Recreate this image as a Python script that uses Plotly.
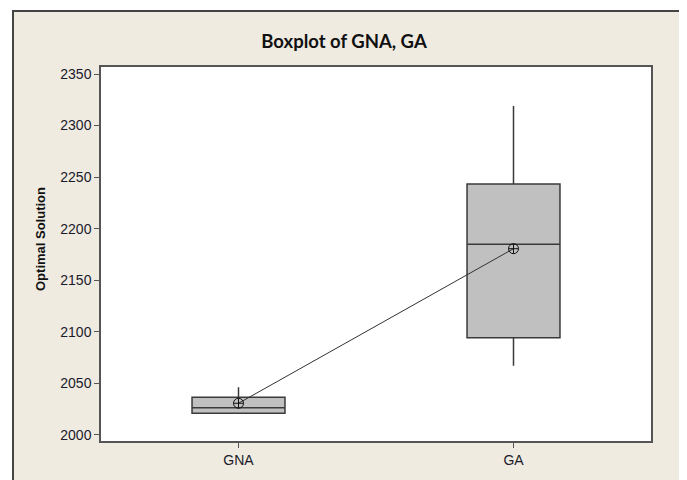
import plotly.graph_objects as go

# ---- data ----
categories = ["GNA", "GA"]
q1_vals = [2020.8, 2094.1]
median_vals = [2026.2, 2184.8]
q3_vals = [2036.3, 2243.3]
lower_whisker = [2020.8, 2067.0]
upper_whisker = [2046.0, 2319.0]
mean_vals = [2030.5, 2180.5]
y_ticks = [2000, 2050, 2100, 2150, 2200, 2250, 2300, 2350]

title_text = "Boxplot of GNA, GA"
y_title = "Optimal Solution"

BEIGE = "#EFEBE1"
DARK = "#3a3a3a"

fig = go.Figure()

fig.add_trace(go.Box(
    x=categories,
    q1=q1_vals,
    median=median_vals,
    q3=q3_vals,
    lowerfence=lower_whisker,
    upperfence=upper_whisker,
    fillcolor="#C0C0C0",
    line=dict(color=DARK, width=1.5),
    whiskerwidth=0,
    width=0.338,
    boxpoints=False,
    showlegend=False,
    hoverinfo="skip",
))

fig.add_trace(go.Scatter(
    x=categories,
    y=mean_vals,
    mode="lines+markers",
    line=dict(color="#333333", width=1),
    marker=dict(symbol="circle-cross-open", size=10, color="#111111",
                line=dict(width=1, color="#111111")),
    showlegend=False,
    hoverinfo="skip",
))

# page body adds an 8px offset, so the figure is drawn 8px smaller
OFF = 8
W, H = 687 - OFF, 480 - OFF
L, R, T, B = 101 - OFF, 36, 67 - OFF, 39
pw, ph = W - L - R, H - T - B

def px_x(x):
    return (x - OFF - L) / pw

def px_y(y):
    return (H - B - (y - OFF)) / ph

fig.update_layout(
    width=W, height=H,
    margin=dict(l=L, r=R, t=T, b=B, autoexpand=False),
    paper_bgcolor="white",
    plot_bgcolor="white",
    title=dict(text="<b>" + title_text + "</b>", x=(344 - OFF) / W, xref="container",
               y=1 - (42 - OFF) / H, yref="container", yanchor="middle", xanchor="center",
               font=dict(family="Lato", size=18.5, color="#111111")),
    shapes=[
        dict(type="rect", xref="paper", yref="paper", layer="below",
             x0=px_x(13), x1=px_x(682), y0=px_y(560), y1=px_y(11),
             fillcolor=BEIGE, line=dict(color="#444444", width=2)),
        dict(type="rect", xref="paper", yref="paper", layer="below",
             x0=0, x1=1, y0=0, y1=1,
             fillcolor="white", line=dict(width=0)),
    ],
    annotations=[
        dict(text="<b>" + y_title + "</b>", xref="paper", yref="paper",
             x=px_x(41), y=px_y(239), textangle=-90, showarrow=False,
             xanchor="center", yanchor="middle",
             font=dict(family="Liberation Sans", size=13, color="#111111")),
    ],
)

fig.update_xaxes(
    type="category", range=[-0.5, 1.5],
    showline=True, mirror=True, linecolor="#555555", linewidth=1.5,
    ticks="outside", ticklen=5, tickcolor="#555555", tickwidth=1,
    showgrid=False, zeroline=False,
    tickfont=dict(family="Liberation Sans", size=14, color="#1a1a2a"),
)
fig.update_yaxes(
    range=[1993.9, 2356.8], tickvals=y_ticks,
    showline=True, mirror=True, linecolor="#555555", linewidth=1.5,
    ticks="outside", ticklen=5, tickcolor="#555555", tickwidth=1,
    showgrid=False, zeroline=False,
    tickfont=dict(family="Liberation Sans", size=14, color="#1a1a2a"),
)

fig.write_html("out.html")
